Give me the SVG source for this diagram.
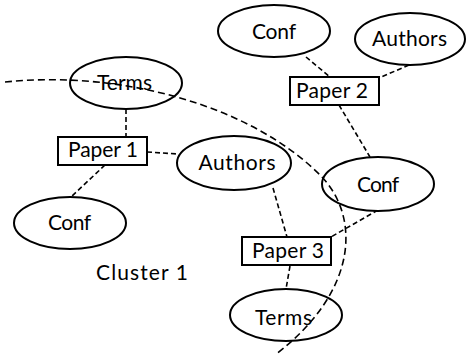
<svg xmlns="http://www.w3.org/2000/svg" width="466" height="358" viewBox="0 0 466 358">
<style>
.n{fill:#fff;stroke:#000;stroke-width:2}
.t{font-family:Lato,"Open Sans","Liberation Sans",sans-serif;font-size:21px;fill:#000;text-anchor:middle}
.c{fill:none;stroke:#000;stroke-width:1.6;stroke-dasharray:5,3}
.b{fill:none;stroke:#000;stroke-width:1.6;stroke-dasharray:7,4}
</style>
<rect width="466" height="358" fill="#fff"/>
<g id="connectors">
<line class="c" x1="126" y1="109" x2="126" y2="137"/>
<line class="c" x1="147" y1="152" x2="178" y2="154"/>
<line class="c" x1="105" y1="165" x2="71" y2="197"/>
<line class="c" x1="306" y1="57" x2="330" y2="77"/>
<line class="c" x1="409" y1="65" x2="379" y2="78"/>
<line class="c" x1="339" y1="105" x2="370" y2="157"/>
<line class="c" x1="273" y1="188" x2="287" y2="237"/>
<line class="c" x1="378" y1="210" x2="331" y2="237"/>
<line class="c" x1="290" y1="266" x2="286" y2="289"/>
</g>
<g id="terms1"><ellipse class="n" cx="126" cy="83" rx="56" ry="26"/></g>
<g id="paper1"><rect class="n" x="58" y="137" width="89" height="28"/><text class="t" x="103" y="157" textLength="70">Paper 1</text></g>
<g id="authors1"><ellipse class="n" cx="234" cy="163" rx="57" ry="27"/><text class="t" x="237" y="170" textLength="77">Authors</text></g>
<g id="conf1"><ellipse class="n" cx="70" cy="223" rx="56" ry="26"/><text class="t" x="69.5" y="230" textLength="43">Conf</text></g>
<g id="conf2"><ellipse class="n" cx="274" cy="31" rx="56" ry="26"/><text class="t" x="274" y="39" textLength="44">Conf</text></g>
<g id="authors2"><ellipse class="n" cx="410" cy="39" rx="55" ry="26"/><text class="t" x="409.5" y="46" textLength="75">Authors</text></g>
<g id="paper2"><rect class="n" x="290" y="77" width="89" height="28"/><text class="t" x="332" y="98" textLength="72">Paper 2</text></g>
<g id="conf3"><ellipse class="n" cx="378" cy="184" rx="56" ry="27"/><text class="t" x="378" y="192" textLength="42">Conf</text></g>
<g id="paper3"><rect class="n" x="242" y="237" width="89" height="28"/><text class="t" x="288" y="258" textLength="72">Paper 3</text></g>
<g id="terms2"><ellipse class="n" cx="286" cy="315" rx="56" ry="26"/><text class="t" x="283.5" y="325" textLength="57">Terms</text></g>
<g id="cluster">
<path class="b" d="M5,82 C120,70 250,105 320,175 C360,215 360,290 275,355"/>
<text class="t" x="142" y="280" textLength="92">Cluster 1</text>
</g>
<g id="terms1-label"><text class="t" x="124.5" y="90" textLength="55">Terms</text></g>
</svg>
